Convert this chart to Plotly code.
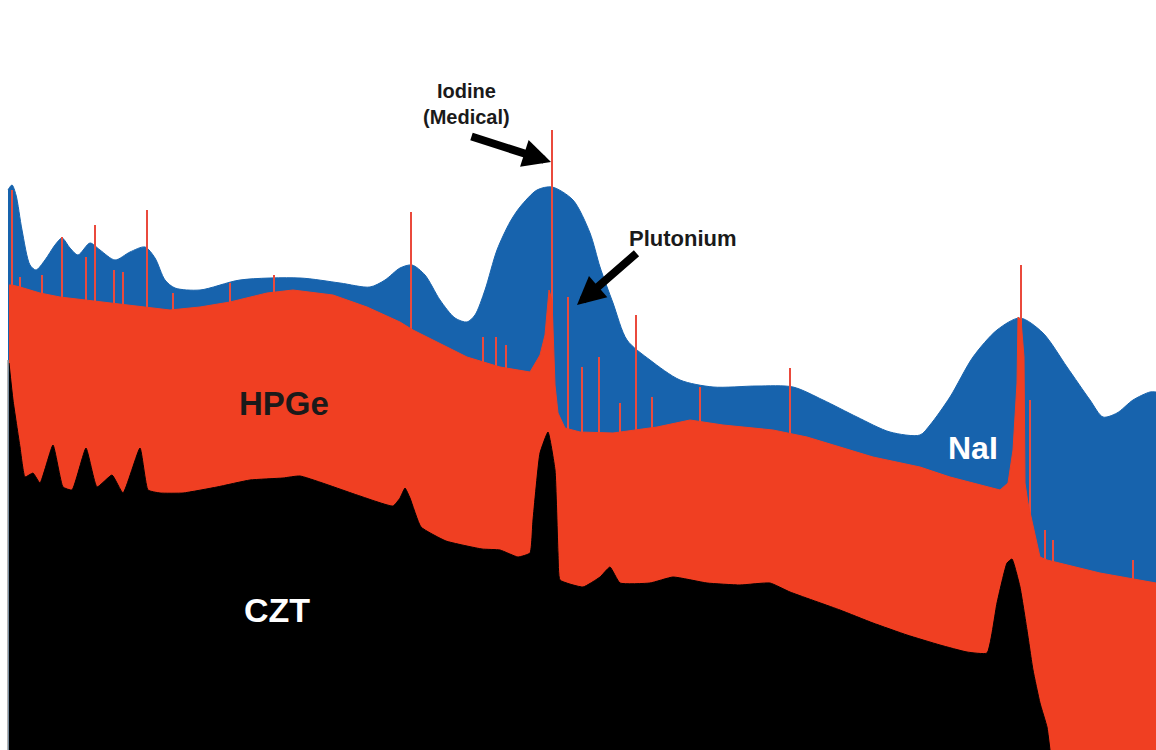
import plotly.graph_objects as go

# Gamma-ray spectra of the same source seen by three detector types.
# Channel axis runs left to right, counts upward (arbitrary display units).

# NaI scintillator: broad, smooth photopeaks
nai_channel = [8, 12, 16, 22, 30, 36, 45, 55, 62, 70, 78, 90, 100, 115, 130, 145, 155,
               165, 175, 200, 240, 300, 340, 370, 385, 400, 412, 425, 440, 455, 467,
               475, 485, 497, 510, 520, 537, 552, 573, 590, 600, 613, 627, 650, 680,
               713, 757, 793, 823, 857, 890, 920, 930, 950, 973, 997, 1020, 1043, 1067,
               1090, 1103, 1117, 1133, 1150, 1156]
nai_counts = [560, 565, 555, 520, 485, 480, 490, 505, 512, 502, 495, 507, 500, 490, 498,
              503, 492, 470, 462, 460, 470, 472, 467, 463, 470, 482, 485, 475, 450, 432,
              428, 435, 460, 500, 528, 543, 560, 563, 550, 517, 483, 447, 410, 390, 370,
              363, 364, 363, 350, 333, 318, 315, 325, 353, 393, 420, 432, 417, 383, 350,
              333, 337, 350, 358, 358]

# HPGe semiconductor: continuum with very narrow lines
hpge_channel = [9, 12, 20, 40, 60, 100, 140, 170, 200, 230, 267, 293, 333, 367, 400, 413,
                433, 467, 500, 530, 540, 545, 549, 552, 555, 558, 565, 580, 613, 657, 690,
                723, 773, 807, 840, 873, 920, 950, 1000, 1008, 1013, 1017, 1018, 1021,
                1024, 1025, 1028, 1035, 1040, 1047, 1100, 1156]
hpge_counts = [465, 465, 463, 457, 453, 448, 443, 440, 443, 448, 457, 460, 455, 443, 428,
               420, 410, 393, 383, 378, 395, 415, 460, 450, 365, 337, 322, 318, 317, 323,
               330, 325, 320, 313, 303, 293, 283, 273, 260, 267, 300, 367, 433, 430,
               393, 267, 247, 217, 193, 190, 177, 167]

# HPGe line positions and their peak heights
hpge_line_channel = [12, 20, 42, 62, 86, 95, 114, 123, 147, 173, 230, 274, 411, 483, 496,
                     506, 552, 568, 582, 599, 620, 636, 652, 700, 790, 1021, 1030, 1045,
                     1053, 1133]
hpge_line_counts = [560, 473, 475, 513, 493, 525, 480, 478, 540, 457, 467, 475, 538, 413,
                    413, 405, 620, 453, 383, 393, 347, 435, 353, 363, 382, 485, 350, 220,
                    210, 190]

# CZT semiconductor: intermediate resolution
czt_channel = [9, 13, 20, 25, 33, 40, 53, 63, 72, 86, 97, 112, 123, 140, 148, 160, 183,
               217, 250, 283, 300, 357, 393, 400, 405, 410, 421, 446, 482, 500, 518, 530,
               533, 540, 548, 555, 558, 560, 583, 600, 610, 620, 650, 673, 707, 740, 770,
               790, 840, 873, 907, 940, 967, 987, 997, 1007, 1012, 1020, 1027, 1033, 1040,
               1047, 1050]
czt_counts = [387, 350, 303, 273, 277, 267, 305, 263, 260, 302, 263, 275, 257, 302, 260,
              257, 257, 263, 270, 272, 274, 255, 244, 252, 262, 252, 223, 209, 201, 200,
              193, 197, 230, 297, 318, 280, 197, 170, 163, 173, 183, 167, 167, 173, 167,
              165, 167, 158, 140, 127, 115, 105, 98, 97, 147, 187, 191, 163, 120, 80, 47,
              23, 0]

NAI_BLUE = "#1763ad"
HPGE_RED = "#f03f22"
LINE_RED = "#ea4a3c"

fig = go.Figure()

fig.add_trace(go.Scatter(x=nai_channel, y=nai_counts, mode="lines", fill="tozeroy",
                         fillcolor=NAI_BLUE,
                         line=dict(color=NAI_BLUE, width=1, shape="spline", smoothing=0.8),
                         hoverinfo="skip", showlegend=False))

# narrow HPGe lines as vertical strokes; the continuum fill drawn next hides their feet
line_x, line_y = [], []
for ch, c in zip(hpge_line_channel, hpge_line_counts):
    line_x += [ch, ch, None]
    line_y += [0, c, None]
fig.add_trace(go.Scatter(x=line_x, y=line_y, mode="lines",
                         line=dict(color=LINE_RED, width=2),
                         hoverinfo="skip", showlegend=False))

fig.add_trace(go.Scatter(x=hpge_channel, y=hpge_counts, mode="lines", fill="tozeroy",
                         fillcolor=HPGE_RED, line=dict(color=HPGE_RED, width=1),
                         hoverinfo="skip", showlegend=False))

fig.add_trace(go.Scatter(x=czt_channel, y=czt_counts, mode="lines", fill="tozeroy",
                         fillcolor="#000000",
                         line=dict(color="#000000", width=1, shape="spline", smoothing=0.4),
                         hoverinfo="skip", showlegend=False))

font_family = "Liberation Sans, Arial, sans-serif"

annotations = [
    dict(x=466, y=646, text="<b>Iodine<br>(Medical)</b>", showarrow=False,
         font=dict(family=font_family, size=20, color="#1a1a1a")),
    dict(x=683, y=512, text="<b>Plutonium</b>", showarrow=False,
         font=dict(family=font_family, size=22, color="#1a1a1a")),
    dict(x=284, y=347, text="<b>HPGe</b>", showarrow=False,
         font=dict(family=font_family, size=33, color="#1a1a1a")),
    dict(x=277, y=140, text="<b>CZT</b>", showarrow=False,
         font=dict(family=font_family, size=34, color="#ffffff")),
    dict(x=973, y=302, text="<b>NaI</b>", showarrow=False,
         font=dict(family=font_family, size=32, color="#ffffff")),
    # arrows pointing at the iodine and plutonium lines
    dict(x=551, y=588, ax=470, ay=614, xref="x", yref="y", axref="x", ayref="y",
         text="", showarrow=True, arrowhead=2, arrowwidth=8, arrowsize=0.7,
         arrowcolor="#000000"),
    dict(x=577, y=445, ax=638, ay=498, xref="x", yref="y", axref="x", ayref="y",
         text="", showarrow=True, arrowhead=2, arrowwidth=8, arrowsize=0.7,
         arrowcolor="#000000"),
]

# thin frame edge on the left of the spectra
shapes = [dict(type="line", xref="x", yref="y", x0=8, x1=8, y0=0, y1=390,
               line=dict(color="#9a9a9a", width=1.5))]

fig.update_layout(
    width=1156, height=750,
    margin=dict(l=0, r=0, t=0, b=0),
    paper_bgcolor="#ffffff", plot_bgcolor="#ffffff",
    xaxis=dict(range=[0, 1156], visible=False, fixedrange=True),
    yaxis=dict(range=[0, 750], visible=False, fixedrange=True),
    annotations=annotations,
    shapes=shapes,
    showlegend=False,
)

fig.write_html("out.html")
